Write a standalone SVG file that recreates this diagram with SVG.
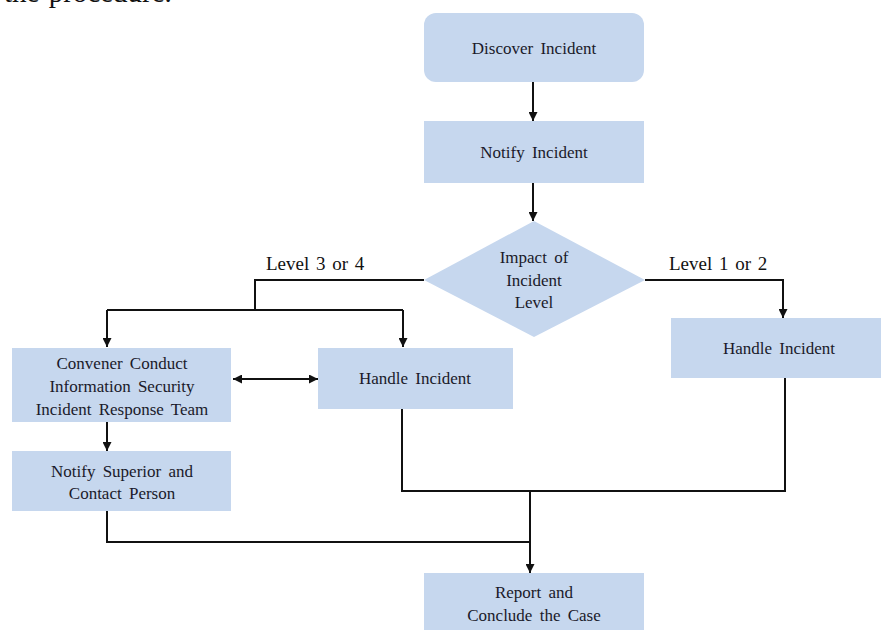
<svg xmlns="http://www.w3.org/2000/svg" width="881" height="630" viewBox="0 0 881 630">
<style>
.box{fill:#c6d7ee;}
.t{font-family:"Liberation Serif","Times New Roman",serif;font-size:17px;fill:#1a1a2a;text-anchor:middle;word-spacing:3px;}
.lbl{font-family:"Liberation Serif","Times New Roman",serif;font-size:19px;fill:#111;word-spacing:2px;}
.c{fill:none;stroke:#111;stroke-width:2;}
</style>
<defs>
<marker id="ah" viewBox="0 0 10 10" refX="10" refY="5" markerWidth="9" markerHeight="9" markerUnits="userSpaceOnUse" orient="auto-start-reverse">
<path d="M0,0 L10,5 L0,10 z" fill="#111"/>
</marker>
</defs>
<rect width="881" height="630" fill="#fff"/>
<text class="lbl" x="4" y="1.5" style="font-size:29px">the procedure.</text>
<g id="connectors">
<path class="c" d="M533,82 V121" marker-end="url(#ah)"/>
<path class="c" d="M533,183 V221" marker-end="url(#ah)"/>
<path class="c" d="M424,280 H255 V310"/>
<path class="c" d="M107,310 H403"/>
<path class="c" d="M107,310 V347" marker-end="url(#ah)"/>
<path class="c" d="M403,310 V347" marker-end="url(#ah)"/>
<path class="c" d="M645,280 H783 V318" marker-end="url(#ah)"/>
<path class="c" d="M233,379 H318" marker-start="url(#ah)" marker-end="url(#ah)"/>
<path class="c" d="M107,422 V451" marker-end="url(#ah)"/>
<path class="c" d="M402,409 V491 H785 V378"/>
<path class="c" d="M107,511 V542 H530"/>
<path class="c" d="M530,491 V573" marker-end="url(#ah)"/>
<text class="lbl" x="266" y="270">Level 3 or 4</text>
<text class="lbl" x="669" y="270">Level 1 or 2</text>
</g>
<g id="discover">
<rect class="box" x="424" y="13" width="220" height="69" rx="12"/>
<text class="t" x="534" y="54">Discover Incident</text>
</g>
<g id="notify">
<rect class="box" x="424" y="121" width="220" height="62"/>
<text class="t" x="534" y="158">Notify Incident</text>
</g>
<g id="impact">
<polygon class="box" points="534,221 645,280 534,337 424,280"/>
<text class="t" x="534" y="263">Impact of</text>
<text class="t" x="534" y="286">Incident</text>
<text class="t" x="534" y="308">Level</text>
</g>
<g id="convener">
<rect class="box" x="12" y="348" width="219" height="74"/>
<text class="t" x="122" y="369">Convener Conduct</text>
<text class="t" x="122" y="392">Information Security</text>
<text class="t" x="122" y="415">Incident Response Team</text>
</g>
<g id="handle-mid">
<rect class="box" x="318" y="348" width="195" height="61"/>
<text class="t" x="415" y="384">Handle Incident</text>
</g>
<g id="handle-right">
<rect class="box" x="671" y="318" width="210" height="60"/>
<text class="t" x="779" y="354">Handle Incident</text>
</g>
<g id="notify-superior">
<rect class="box" x="12" y="451" width="219" height="60"/>
<text class="t" x="122" y="477">Notify Superior and</text>
<text class="t" x="122" y="499">Contact Person</text>
</g>
<g id="report">
<rect class="box" x="424" y="573" width="220" height="60"/>
<text class="t" x="534" y="598">Report and</text>
<text class="t" x="534" y="621">Conclude the Case</text>
</g>
</svg>
